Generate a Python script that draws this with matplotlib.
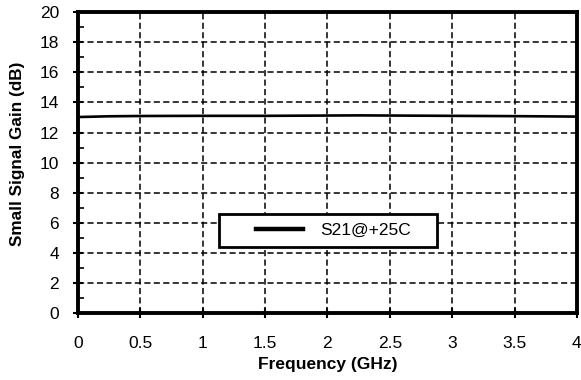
import numpy as np
import matplotlib.pyplot as plt
from matplotlib.ticker import MultipleLocator
from matplotlib.patches import Rectangle

plt.rcParams['font.family'] = ['Liberation Sans', 'DejaVu Sans']

# 数据
freq_ghz = [0.0, 0.1, 0.25, 0.5, 1.0, 1.5, 2.0, 2.25, 2.5, 3.0, 3.5, 4.0]
s21_db = [13.03, 13.05, 13.08, 13.10, 13.11, 13.11, 13.13, 13.14, 13.13, 13.11, 13.09, 13.06]
x_ticks = [0, 0.5, 1, 1.5, 2, 2.5, 3, 3.5, 4]
x_tick_labels = ['0', '0.5', '1', '1.5', '2', '2.5', '3', '3.5', '4']
y_ticks = [0, 2, 4, 6, 8, 10, 12, 14, 16, 18, 20]

fig = plt.figure(figsize=(5.81, 3.80), dpi=100)
ax = fig.add_axes([0.134, 0.176, 0.859, 0.792])

ax.plot(freq_ghz, s21_db, color='black', linewidth=1.9, label='S21@+25C')

ax.set_xlim(0, 4)
ax.set_ylim(0, 20)
ax.set_xticks(x_ticks)
ax.set_xticklabels(x_tick_labels)
ax.set_yticks(y_ticks)
ax.yaxis.set_minor_locator(MultipleLocator(1))

ax.grid(True, which='major', color='black', linestyle=(0, (4, 2.2)), linewidth=1.1)
for s in ax.spines.values():
    s.set_linewidth(2.8)

ax.tick_params(axis='both', which='major', direction='inout', length=7, width=1.5,
               labelsize=12.5, colors='black')
ax.tick_params(axis='x', which='major', pad=13)
ax.tick_params(axis='y', which='major', pad=10)
ax.tick_params(axis='y', which='minor', direction='in', length=4, width=1.2)

ax.set_xlabel('Frequency (GHz)', fontsize=12.5, fontweight='bold')
ax.set_ylabel('Small Signal Gain (dB)', fontsize=12.3, fontweight='bold')
ax.xaxis.set_label_coords(0.5, -0.145)
ax.yaxis.set_label_coords(-0.106, 0.53)

# 图例框
ax.add_patch(Rectangle((0.2826, 0.219), 0.4368, 0.11, transform=ax.transAxes,
                       facecolor='white', edgecolor='black', linewidth=2.0, zorder=4))
leg = ax.legend(loc='center', bbox_to_anchor=(0.513, 0.274), frameon=False,
                fontsize=12.5, handlelength=2.7, handletextpad=1.0, borderaxespad=0)
leg.set_zorder(5)
leg.get_lines()[0].set_linewidth(3.2)

fig.savefig('out.png', dpi=100)
